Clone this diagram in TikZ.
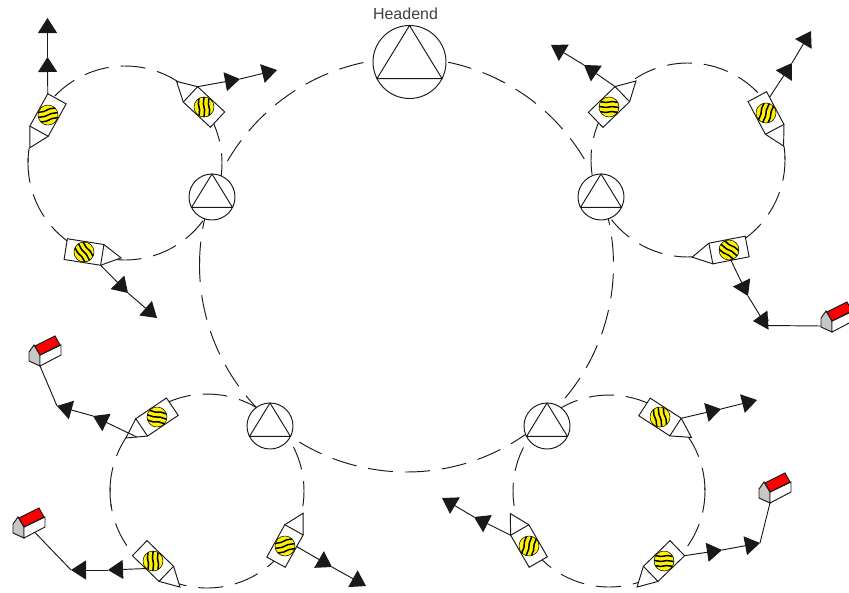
\documentclass[tikz,border=0pt]{standalone}
\usepackage{fontspec}
\setmainfont{Liberation Sans}
\usetikzlibrary{arrows.meta,positioning,calc}

\begin{document}
\begin{tikzpicture}[
  x=1pt, y=-1pt,
  ink/.style={draw=black!90, line width=0.95pt},
  ring/.style={ink, dash pattern=on 25pt off 12pt},
  hub/.style={circle, ink, fill=white, inner sep=0pt, outer sep=0pt, minimum size=46pt},
  tapbody/.style={rectangle, ink, fill=white, inner sep=0pt, outer sep=0pt,
                  minimum width=37pt, minimum height=21pt},
  ball/.style={circle, draw=black, line width=0.5pt, fill=yellow, inner sep=0pt, minimum size=20pt},
  feed/.style={ink, -{Triangle[length=15pt,width=19pt]}},
  wire/.style={ink}
]
  \useasboundingbox (0,0) rectangle (849,592);

  % rings, one arc per stretch between two devices
  \coordinate (bigring) at (406.5,265);
  \coordinate (ringtl) at (125,163);
  \coordinate (ringtr) at (688,160);
  \coordinate (ringbl) at (207,491);
  \coordinate (ringbr) at (609,491);
  \foreach \c/\rr/\s/\e in {
      ringtl/97/56/142, ringtl/97/171/180, ringtl/97/177/236, ringtl/97/265/325, ringtl/97/-9/30,
      ringtr/97/44/123, ringtr/97/152/190, ringtr/97/218/273, ringtr/97/304/362, ringtr/97/360/368,
      ringbl/97/56/113, ringbl/97/144/192, ringbl/97/178/190, ringbl/97/199.5/216,
      ringbl/97/243/318, ringbl/97/-9/27,
      ringbr/96/65/120, ringbr/96/153/189, ringbr/96/218/288, ringbr/96/-35/5,
      ringbr/96/0/14, ringbr/96/21/36,
      bigring/207/102/150, bigring/207/30.8/78.4, bigring/207/163/170, bigring/207/173.5/180,
      bigring/207/178/184.7, bigring/207/188.4/225, bigring/207/-40/13, bigring/207/228.6/305} {
    \draw[ring] (\c) ++(\s:\rr pt) arc (\s:\e:\rr pt);
  }

  % hubs
  \node[hub, minimum size=73pt] (head) at (409.5,62) {};
  \node[hub] (hubtl) at (212,197) {};
  \node[hub] (hubtr) at (601,197) {};
  \node[hub] (hubbl) at (270,426) {};
  \node[hub] (hubbr) at (547,426) {};
  \foreach \h in {head,hubtl,hubtr,hubbl,hubbr} {
    \draw[ink] (\h.90) -- (\h.-27) -- (\h.207) -- cycle;
  }
  \node[font=\fontsize{16}{16}\selectfont, text=black!75] (headlabel) at (405.5,14) {Headend};

  % taps
  \foreach \n/\x/\y/\r in {t1/48/115/241, t2/204/107/137, t3/84/252/351,
                           t4/609/107/44, t5/766/113/298, t6/729/250/191,
                           t7/660/417/327, t8/664/561/224, t9/529/546/120,
                           t10/157/417/214, t11/153/561/316, t12/285/546/61} {
    \begin{scope}[shift={(\x,\y)}, rotate=\r]
      \coordinate (\n-n) at (37.5,0);
      \draw[ink, fill=white] (18.5,-10.5) -- (\n-n) -- (18.5,10.5);
    \end{scope}
    \node[tapbody, rotate=\r] (\n) at (\x,\y) {};
    \node[ball] (\n-b) at (\n) {};
    \begin{scope}[shift={(\n)}, rotate=\r+133]
      \clip (0,0) circle (10);
      \foreach \s in {-5,0,5} {
        \draw[black, line width=1.5pt] (-10,\s) -- (-3,\s+0.6) -- (3,\s-0.6) -- (10,\s);
      }
    \end{scope}
  }

  % houses
  \foreach \n/\x/\y in {h1/40/366, h2/24/538, h3/832/332, h4/770/503} {
    \coordinate (\n) at (\x,\y);
    \begin{scope}[shift={(\n)}]
      \draw[ink, fill=black!22] (-11,-5) -- (-11,-14) -- (-6,-21) -- (0,-11) -- (0,0) -- cycle;
      \draw[ink, fill=white] (0,0) -- (21,-11) -- (21,-21) -- (0,-11) -- cycle;
      \draw[ink, fill=red] (-5,-20) -- (15,-30) -- (20,-21) -- (0,-11) -- cycle;
    \end{scope}
  }

  % arrows out of the taps
  \coordinate (a1) at (47.5,57);   \coordinate (b1) at (47.5,18);
  \coordinate (a2) at (240,79);    \coordinate (b2) at (277,70);
  \coordinate (a3) at (128,293);   \coordinate (b3) at (157,318);
  \coordinate (a4) at (584,65);    \coordinate (b4) at (551,45);
  \coordinate (a5) at (792,63);    \coordinate (b5) at (811,31);
  \coordinate (a6) at (748,296);   \coordinate (c6) at (766,325.5);
  \coordinate (d6) at (769,320);   \coordinate (k6) at (753,321);
  \coordinate (a7) at (721,409);   \coordinate (b7) at (757,400);
  \coordinate (a8) at (722,550);   \coordinate (b8) at (760,543);
  \coordinate (a9) at (474,517);   \coordinate (b9) at (442,498);
  \coordinate (a10) at (93,416);   \coordinate (b10) at (57,406);
  \coordinate (a11) at (108,570);  \coordinate (b11) at (71,570);
  \coordinate (a12) at (332,567);  \coordinate (b12) at (366,586);

  \draw[feed] (t1.south west) -- (a1);
  \draw[feed] (a1) -- (b1);
  \draw[feed] (t2.south east) -- (a2);
  \draw[feed] (a2) -- (b2);
  \draw[feed] (t3.south east) -- (a3);
  \draw[feed] (a3) -- (b3);
  \draw[feed] (t4.north east) -- (a4);
  \draw[feed] (a4) -- (b4);
  \draw[feed] ($(t5.north west)!.17!(t5.north east)$) -- (a5);
  \draw[feed] (a5) -- (b5);
  \draw[feed] (t6.north) -- (a6);
  \draw[wire] (a6) -- (c6) -- ($(h3)+(-11,-6)$);
  \draw[feed] (d6) -- (k6);
  \draw[feed] (t7.north east) -- (a7);
  \draw[feed] (a7) -- (b7);
  \draw[feed] (t8.north west) -- (a8);
  \draw[feed] (a8) -- (b8);
  \draw[wire] (b8) -- (h4);
  \draw[feed] (t9.north east) -- (a9);
  \draw[feed] (a9) -- (b9);
  \draw[feed] ($(t10.north east)!.5!(t10-n)$) -- (a10);
  \draw[feed] (a10) -- (b10);
  \draw[wire] (b10) -- (h1);
  \draw[feed] (t11.south) -- (a11);
  \draw[feed] (a11) -- (b11);
  \draw[wire] (b11) -- ($(h2)+(11,-5.5)$);
  \draw[feed] ($(t12.south west)!.64!(t12.south east)$) -- (a12);
  \draw[feed] (a12) -- (b12);
\end{tikzpicture}
\end{document}
